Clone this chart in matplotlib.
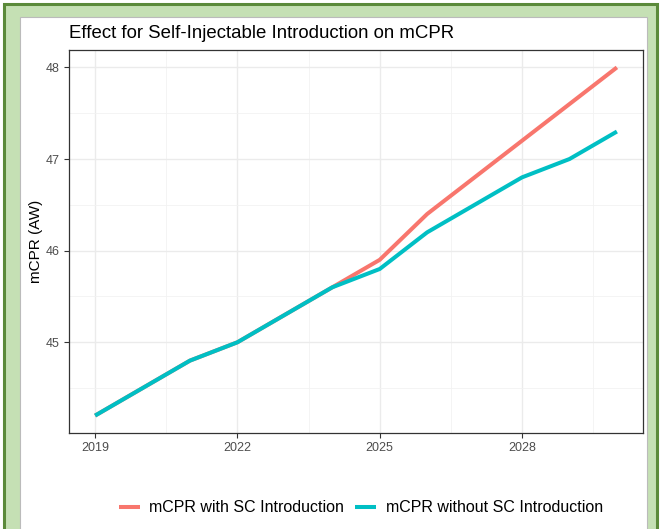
import matplotlib
matplotlib.use("Agg")
import matplotlib.pyplot as plt
from matplotlib.patches import Rectangle
from matplotlib.ticker import FixedLocator

years = [2019, 2020, 2021, 2022, 2023, 2024, 2025, 2026, 2027, 2028, 2029, 2030]
with_sc = [44.2, 44.5, 44.8, 45.0, 45.3, 45.6, 45.9, 46.4, 46.8, 47.2, 47.6, 48.0]
without_sc = [44.2, 44.5, 44.8, 45.0, 45.3, 45.6, 45.8, 46.2, 46.5, 46.8, 47.0, 47.3]
x_ticks = [2019, 2022, 2025, 2028]
y_ticks = [45, 46, 47, 48]
title = "Effect for Self-Injectable Introduction on mCPR"
ylabel = "mCPR (AW)"
labels = ["mCPR with SC Introduction", "mCPR without SC Introduction"]
colors = ["#F8766D", "#00BFC4"]

W, H = 660, 529
plt.rcParams['font.family'] = ['Liberation Sans', 'DejaVu Sans']
fig = plt.figure(figsize=(W / 100, H / 100), dpi=100)
fig.patch.set_facecolor("white")

def px(x0, y0, x1, y1, **kw):
    r = Rectangle((x0 / W, 1 - y1 / H), (x1 - x0) / W, (y1 - y0) / H,
                  transform=fig.transFigure, zorder=-10, **kw)
    fig.patches.append(r)

# frame
px(4, 4, 657, 560, facecolor="#C5E0B4", edgecolor="#5B8A3A", linewidth=2.2)
px(20, 17, 647, 560, facecolor="white", edgecolor="#BBBBBB", linewidth=0.8)

ax = fig.add_axes([69 / W, 1 - 433 / H, (643 - 69) / W, (433 - 50) / H])
ax.set_facecolor("white")

ax.plot(years, with_sc, color=colors[0], lw=2.9, label=labels[0], solid_capstyle='butt')
ax.plot(years, without_sc, color=colors[1], lw=2.9, label=labels[1], solid_capstyle='butt')

xr = years[-1] - years[0]
ax.set_xlim(years[0] - 0.05 * xr, years[-1] + 0.05 * xr)
ymin = min(min(with_sc), min(without_sc))
ymax = max(max(with_sc), max(without_sc))
yr = ymax - ymin
ax.set_ylim(ymin - 0.05 * yr, ymax + 0.05 * yr)

ax.set_xticks(x_ticks)
ax.set_yticks(y_ticks)
ax.xaxis.set_minor_locator(FixedLocator([2020.5, 2023.5, 2026.5, 2029.5]))
ax.yaxis.set_minor_locator(FixedLocator([44.5, 45.5, 46.5, 47.5]))
ax.grid(which="major", color="#EBEBEB", lw=1.0)
ax.grid(which="minor", color="#F2F2F2", lw=0.6)
ax.set_axisbelow(True)
ax.tick_params(which="major", length=3.5, width=0.8, color="#333333",
               labelcolor="#4D4D4D", labelsize=9, pad=3)
ax.tick_params(which="minor", length=0)
for s in ax.spines.values():
    s.set_color("#333333")
    s.set_linewidth(0.9)

ax.set_ylabel(ylabel, fontsize=11, color="black", labelpad=2)
fig.text(69 / W, 1 - 33 / H, title, fontsize=13.4, color="black", ha="left", va="center")

handles, labs = ax.get_legend_handles_labels()
fig.legend(handles, labs, loc="center", bbox_to_anchor=(361 / W, 1 - 508 / H),
           ncol=2, frameon=False, fontsize=11.5, handlelength=1.3,
           handletextpad=0.6, columnspacing=0.7)

fig.savefig("out.png", dpi=100)
